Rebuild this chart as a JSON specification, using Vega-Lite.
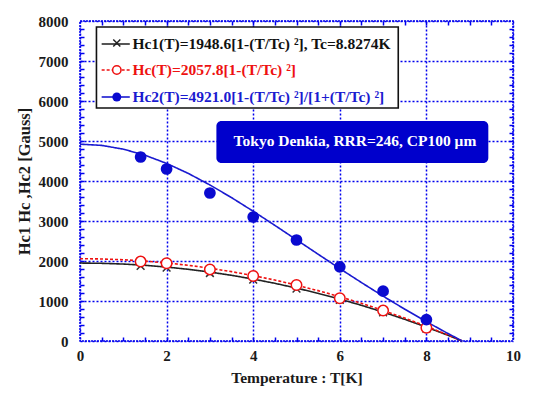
{
  "$schema": "https://vega.github.io/schema/vega-lite/v6.json",
  "width": 433,
  "height": 320,
  "autosize": "none",
  "padding": {"left": 80, "top": 21, "right": 22, "bottom": 52},
  "background": "white",
  "config": {
    "view": {"stroke": "#0000ee", "strokeWidth": 1.5, "strokeDash": [2, 1]},
    "font": "Liberation Serif",
    "axis": {
      "labelFont": "Liberation Serif", "labelFontWeight": "bold", "labelFontSize": 15, "labelColor": "#1a1a1a",
      "titleFont": "Liberation Serif", "titleFontWeight": "bold", "titleFontSize": 15.5, "titleColor": "#1a1a1a",
      "gridColor": "#0000ee", "gridDash": [2, 2], "gridWidth": 1.5, "gridOpacity": 1, "domain": false
    }
  },
  "datasets": {
    "curves": [
      {"T": 0, "H": 1949, "s": "Hc1"}, {"T": 0.5, "H": 1942, "s": "Hc1"}, {"T": 1, "H": 1924, "s": "Hc1"}, {"T": 1.5, "H": 1892, "s": "Hc1"},
      {"T": 2, "H": 1849, "s": "Hc1"}, {"T": 2.5, "H": 1792, "s": "Hc1"}, {"T": 3, "H": 1724, "s": "Hc1"}, {"T": 3.5, "H": 1642, "s": "Hc1"},
      {"T": 4, "H": 1548, "s": "Hc1"}, {"T": 4.5, "H": 1442, "s": "Hc1"}, {"T": 5, "H": 1323, "s": "Hc1"}, {"T": 5.5, "H": 1192, "s": "Hc1"},
      {"T": 6, "H": 1048, "s": "Hc1"}, {"T": 6.5, "H": 892, "s": "Hc1"}, {"T": 7, "H": 723, "s": "Hc1"}, {"T": 7.5, "H": 542, "s": "Hc1"},
      {"T": 8, "H": 348, "s": "Hc1"}, {"T": 8.5, "H": 142, "s": "Hc1"}, {"T": 8.8274, "H": 0, "s": "Hc1"},
      {"T": 0, "H": 2058, "s": "Hc"}, {"T": 0.5, "H": 2051, "s": "Hc"}, {"T": 1, "H": 2031, "s": "Hc"}, {"T": 1.5, "H": 1998, "s": "Hc"},
      {"T": 2, "H": 1952, "s": "Hc"}, {"T": 2.5, "H": 1893, "s": "Hc"}, {"T": 3, "H": 1820, "s": "Hc"}, {"T": 3.5, "H": 1734, "s": "Hc"},
      {"T": 4, "H": 1635, "s": "Hc"}, {"T": 4.5, "H": 1523, "s": "Hc"}, {"T": 5, "H": 1398, "s": "Hc"}, {"T": 5.5, "H": 1259, "s": "Hc"},
      {"T": 6, "H": 1107, "s": "Hc"}, {"T": 6.5, "H": 942, "s": "Hc"}, {"T": 7, "H": 764, "s": "Hc"}, {"T": 7.5, "H": 572, "s": "Hc"},
      {"T": 8, "H": 368, "s": "Hc"}, {"T": 8.5, "H": 150, "s": "Hc"}, {"T": 8.8274, "H": 0, "s": "Hc"},
      {"T": 0, "H": 4921, "s": "Hc2"}, {"T": 0.5, "H": 4890, "s": "Hc2"}, {"T": 1, "H": 4796, "s": "Hc2"}, {"T": 1.5, "H": 4645, "s": "Hc2"},
      {"T": 2, "H": 4440, "s": "Hc2"}, {"T": 2.5, "H": 4190, "s": "Hc2"}, {"T": 3, "H": 3902, "s": "Hc2"}, {"T": 3.5, "H": 3584, "s": "Hc2"},
      {"T": 4, "H": 3244, "s": "Hc2"}, {"T": 4.5, "H": 2891, "s": "Hc2"}, {"T": 5, "H": 2530, "s": "Hc2"}, {"T": 5.5, "H": 2169, "s": "Hc2"},
      {"T": 6, "H": 1811, "s": "Hc2"}, {"T": 6.5, "H": 1461, "s": "Hc2"}, {"T": 7, "H": 1121, "s": "Hc2"}, {"T": 7.5, "H": 795, "s": "Hc2"},
      {"T": 8, "H": 483, "s": "Hc2"}, {"T": 8.5, "H": 186, "s": "Hc2"}, {"T": 8.8274, "H": 0, "s": "Hc2"}
    ],
    "points": [
      {"T": 1.4, "H": 4600, "s": "Hc2"}, {"T": 2, "H": 4300, "s": "Hc2"}, {"T": 3, "H": 3700, "s": "Hc2"}, {"T": 4, "H": 3100, "s": "Hc2"},
      {"T": 5, "H": 2525, "s": "Hc2"}, {"T": 6, "H": 1855, "s": "Hc2"}, {"T": 7, "H": 1245, "s": "Hc2"}, {"T": 8, "H": 535, "s": "Hc2"},
      {"T": 1.4, "H": 1985, "s": "Hc"}, {"T": 2, "H": 1945, "s": "Hc"}, {"T": 3, "H": 1790, "s": "Hc"}, {"T": 4, "H": 1625, "s": "Hc"},
      {"T": 5, "H": 1400, "s": "Hc"}, {"T": 6, "H": 1070, "s": "Hc"}, {"T": 7, "H": 760, "s": "Hc"}, {"T": 8, "H": 330, "s": "Hc"},
      {"T": 1.4, "H": 1880, "s": "Hc1"}, {"T": 2, "H": 1835, "s": "Hc1"}, {"T": 3, "H": 1700, "s": "Hc1"}, {"T": 4, "H": 1535, "s": "Hc1"},
      {"T": 5, "H": 1310, "s": "Hc1"}, {"T": 6, "H": 1030, "s": "Hc1"}, {"T": 7, "H": 715, "s": "Hc1"}, {"T": 8, "H": 310, "s": "Hc1"}
    ],
    "one": [{}]
  },
  "layer": [
    {
      "data": {"name": "curves"},
      "mark": {"type": "line", "strokeWidth": 1.6},
      "encoding": {
        "x": {"field": "T", "type": "quantitative", "scale": {"domain": [0, 10], "nice": false},
          "axis": {"values": [0, 2, 4, 6, 8, 10], "format": "d", "labelOverlap": false, "title": "Temperature : T[K]", "tickSize": 0, "labelPadding": 7, "titlePadding": 7, "labelFlush": false, "grid": true}},
        "y": {"field": "H", "type": "quantitative", "scale": {"domain": [0, 8000], "nice": false},
          "axis": {"values": [0, 1000, 2000, 3000, 4000, 5000, 6000, 7000, 8000], "format": "d", "labelOverlap": false, "title": "Hc1  Hc ,Hc2   [Gauss]", "titleFontSize": 16.5, "tickSize": 0, "labelPadding": 12, "titlePadding": 6, "labelFlush": false, "grid": true}},
        "color": {"field": "s", "type": "nominal", "scale": {"domain": ["Hc1", "Hc", "Hc2"], "range": ["#222222", "#ee1111", "#1a1ad0"]}, "legend": null},
        "strokeDash": {"field": "s", "type": "nominal", "scale": {"domain": ["Hc1", "Hc", "Hc2"], "range": [[1, 0], [3, 2], [1, 0]]}, "legend": null}
      }
    },
    {
      "data": {"name": "points"},
      "transform": [{"filter": "datum.s == 'Hc1'"}],
      "mark": {"type": "point", "shape": "M-1,-1L1,1M-1,1L1,-1", "filled": false, "stroke": "#333333", "strokeWidth": 1.5, "size": 60, "opacity": 1},
      "encoding": {"x": {"field": "T", "type": "quantitative", "axis": null}, "y": {"field": "H", "type": "quantitative", "axis": null}}
    },
    {
      "data": {"name": "points"},
      "transform": [{"filter": "datum.s == 'Hc'"}],
      "mark": {"type": "point", "shape": "circle", "filled": true, "fill": "white", "stroke": "#ee1111", "strokeWidth": 1.5, "size": 110, "opacity": 1},
      "encoding": {"x": {"field": "T", "type": "quantitative", "axis": null}, "y": {"field": "H", "type": "quantitative", "axis": null}}
    },
    {
      "data": {"name": "points"},
      "transform": [{"filter": "datum.s == 'Hc2'"}],
      "mark": {"type": "point", "shape": "circle", "filled": true, "fill": "#0a0ad0", "stroke": "#0a0ad0", "size": 95, "opacity": 1},
      "encoding": {"x": {"field": "T", "type": "quantitative", "axis": null}, "y": {"field": "H", "type": "quantitative", "axis": null}}
    },
    {
      "data": {"name": "one"},
      "mark": {"type": "rect", "fill": "white", "stroke": "#111111", "strokeWidth": 1.6},
      "encoding": {"x": {"datum": 0.38, "axis": null}, "x2": {"datum": 7.35}, "y": {"datum": 7850, "axis": null}, "y2": {"datum": 5825}}
    },
    {
      "data": {"name": "one"},
      "mark": {"type": "rule", "stroke": "#555555", "strokeWidth": 2},
      "encoding": {"x": {"datum": 0.5, "axis": null}, "x2": {"datum": 1.15}, "y": {"datum": 7425, "axis": null}}
    },
    {
      "data": {"name": "one"},
      "mark": {"type": "rule", "stroke": "#ee1111", "strokeWidth": 1.5, "strokeDash": [3, 2]},
      "encoding": {"x": {"datum": 0.5, "axis": null}, "x2": {"datum": 1.15}, "y": {"datum": 6775, "axis": null}}
    },
    {
      "data": {"name": "one"},
      "mark": {"type": "rule", "stroke": "#1a1ad0", "strokeWidth": 1.6},
      "encoding": {"x": {"datum": 0.5, "axis": null}, "x2": {"datum": 1.15}, "y": {"datum": 6100, "axis": null}}
    },
    {
      "data": {"name": "one"},
      "mark": {"type": "point", "shape": "M-1,-1L1,1M-1,1L1,-1", "filled": false, "stroke": "#222222", "strokeWidth": 1.5, "size": 50, "opacity": 1},
      "encoding": {"x": {"datum": 0.85, "axis": null}, "y": {"datum": 7450, "axis": null}}
    },
    {
      "data": {"name": "one"},
      "mark": {"type": "point", "shape": "circle", "filled": true, "fill": "white", "stroke": "#ee1111", "strokeWidth": 1.5, "size": 70, "opacity": 1},
      "encoding": {"x": {"datum": 0.85, "axis": null}, "y": {"datum": 6775, "axis": null}}
    },
    {
      "data": {"name": "one"},
      "mark": {"type": "point", "shape": "circle", "filled": true, "fill": "#0a0ad0", "size": 80, "opacity": 1},
      "encoding": {"x": {"datum": 0.85, "axis": null}, "y": {"datum": 6100, "axis": null}}
    },
    {
      "data": {"name": "one"},
      "mark": {"type": "text", "text": "Hc1(T)=1948.6[1-(T/Tc) ²], Tc=8.8274K", "align": "left", "baseline": "middle", "font": "Liberation Serif", "fontWeight": "bold", "fontSize": 15.5, "color": "#111111"},
      "encoding": {"x": {"datum": 1.21, "axis": null}, "y": {"datum": 7425, "axis": null}}
    },
    {
      "data": {"name": "one"},
      "mark": {"type": "text", "text": "Hc(T)=2057.8[1-(T/Tc) ²]", "align": "left", "baseline": "middle", "font": "Liberation Serif", "fontWeight": "bold", "fontSize": 15.5, "color": "#ee1111"},
      "encoding": {"x": {"datum": 1.21, "axis": null}, "y": {"datum": 6775, "axis": null}}
    },
    {
      "data": {"name": "one"},
      "mark": {"type": "text", "text": "Hc2(T)=4921.0[1-(T/Tc) ²]/[1+(T/Tc) ²]", "align": "left", "baseline": "middle", "font": "Liberation Serif", "fontWeight": "bold", "fontSize": 15.5, "color": "#1a1ad0"},
      "encoding": {"x": {"datum": 1.21, "axis": null}, "y": {"datum": 6100, "axis": null}}
    },
    {
      "data": {"name": "one"},
      "mark": {"type": "rect", "fill": "#0000cc", "cornerRadius": 5},
      "encoding": {"x": {"datum": 3.15, "axis": null}, "x2": {"datum": 9.43}, "y": {"datum": 5500, "axis": null}, "y2": {"datum": 4450}}
    },
    {
      "data": {"name": "one"},
      "mark": {"type": "text", "text": "Tokyo Denkia, RRR=246, CP100  μm", "align": "center", "baseline": "middle", "font": "Liberation Serif", "fontWeight": "bold", "fontSize": 15.5, "color": "white"},
      "encoding": {"x": {"datum": 6.35, "axis": null}, "y": {"datum": 5000, "axis": null}}
    },
    {
      "data": {"name": "points"},
      "mark": {"type": "point", "opacity": 0},
      "encoding": {
        "x": {"field": "T", "type": "quantitative",
          "axis": {"orient": "bottom", "values": [0.5, 1, 1.5, 2, 2.5, 3, 3.5, 4, 4.5, 5, 5.5, 6, 6.5, 7, 7.5, 8, 8.5, 9, 9.5], "labels": false, "grid": false, "ticks": true, "tickSize": -4, "tickColor": "#0000ee", "tickWidth": 1.5, "title": null}},
        "y": {"field": "H", "type": "quantitative",
          "axis": {"orient": "left", "values": [200, 400, 600, 800, 1000, 1200, 1400, 1600, 1800, 2000, 2200, 2400, 2600, 2800, 3000, 3200, 3400, 3600, 3800, 4000, 4200, 4400, 4600, 4800, 5000, 5200, 5400, 5600, 5800, 6000, 6200, 6400, 6600, 6800, 7000, 7200, 7400, 7600, 7800], "labels": false, "grid": false, "ticks": true, "tickSize": -4, "tickColor": "#0000ee", "tickWidth": 1.5, "title": null}}
      }
    },
    {
      "data": {"name": "points"},
      "mark": {"type": "point", "opacity": 0},
      "encoding": {
        "x": {"field": "T", "type": "quantitative",
          "axis": {"orient": "top", "values": [0.5, 1, 1.5, 2, 2.5, 3, 3.5, 4, 4.5, 5, 5.5, 6, 6.5, 7, 7.5, 8, 8.5, 9, 9.5], "labels": false, "grid": false, "ticks": true, "tickSize": -4, "tickColor": "#0000ee", "tickWidth": 1.5, "title": null}},
        "y": {"field": "H", "type": "quantitative",
          "axis": {"orient": "right", "values": [200, 400, 600, 800, 1000, 1200, 1400, 1600, 1800, 2000, 2200, 2400, 2600, 2800, 3000, 3200, 3400, 3600, 3800, 4000, 4200, 4400, 4600, 4800, 5000, 5200, 5400, 5600, 5800, 6000, 6200, 6400, 6600, 6800, 7000, 7200, 7400, 7600, 7800], "labels": false, "grid": false, "ticks": true, "tickSize": -4, "tickColor": "#0000ee", "tickWidth": 1.5, "title": null}}
      }
    }
  ],
  "resolve": {"axis": {"x": "independent", "y": "independent"}}
}
